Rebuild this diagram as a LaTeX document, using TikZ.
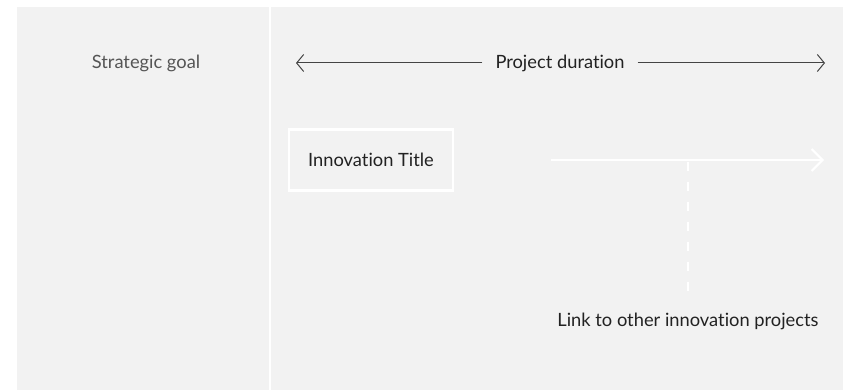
\documentclass[tikz,border=0pt]{standalone}
\usepackage{fontspec}
\setmainfont{Lato}[Ligatures={NoCommon}]
\usetikzlibrary{arrows.meta}
\definecolor{panel}{HTML}{F2F2F2}
\definecolor{ink}{HTML}{222222}
\definecolor{soft}{HTML}{555555}
\definecolor{rule}{HTML}{444444}
\tikzset{
  x=1pt,y=-1pt,
  lbl/.style={font=\fontsize{18.3}{21}\selectfont, text=ink, inner sep=0pt},
  durline/.style={draw=rule, line width=1pt, -{Straight Barb[length=7pt,width=17pt]}},
  whiteline/.style={draw=white, line width=2pt},
  titlebox/.style={draw=white, line width=2.5pt, minimum width=164pt, minimum height=61pt, inner sep=0pt}
}
\begin{document}
\begin{tikzpicture}
\useasboundingbox (0,0) rectangle (843,390);
\fill[white] (0,0) rectangle (843,390);
\fill[panel] (17,7) rectangle (269,390);
\fill[panel] (271,7) rectangle (843,390);

\node[lbl, text=soft] (goal) at (146,63) {Strategic goal};
\node[lbl] (dur) at (560,63) {Project duration};
\coordinate (durL) at (296,63);
\coordinate (durR) at (825,63);
\draw[durline] ([xshift=-13pt]dur.west) -- (durL);
\draw[durline] ([xshift=13pt]dur.east) -- (durR);

\node[lbl, titlebox] (title) at (371,160) {Innovation Title};

\coordinate (aS) at (551,160);
\coordinate (aE) at (824,160);
\coordinate (jT) at (688,160);
\node[lbl] (link) at (688,321) {Link to other innovation projects};
\draw[whiteline, -{Straight Barb[length=11pt,width=22pt]}] (aS) -- (aE);
\draw[whiteline, dash pattern=on 9pt off 11pt] ([yshift=-2pt]jT) -- ([yshift=21pt]link.north);
\end{tikzpicture}
\end{document}
